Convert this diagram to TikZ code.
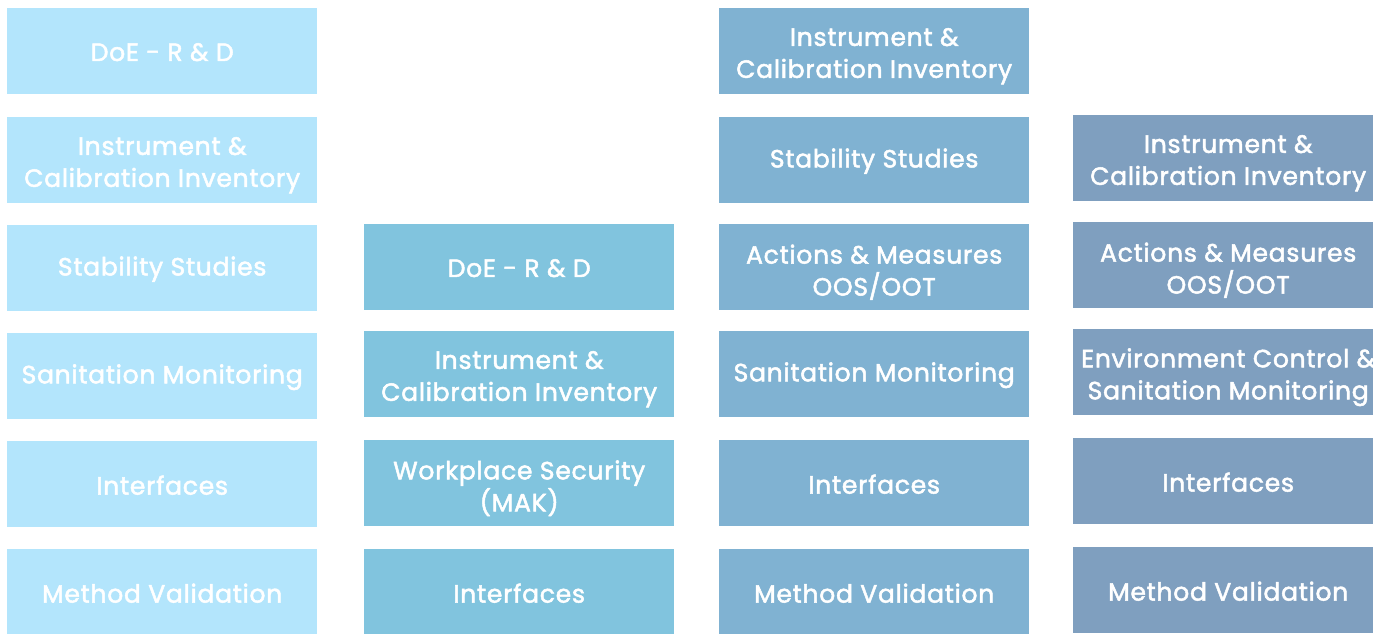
\documentclass[tikz,border=0pt]{standalone}
\usepackage{fontspec}
\setmainfont{Poppins}[LetterSpace=3,BoldFont=Poppins,BoldFeatures={FakeBold=2,LetterSpace=3}]
\definecolor{cA}{RGB}{179,229,252}
\definecolor{cB}{RGB}{129,196,222}
\definecolor{cC}{RGB}{128,178,210}
\definecolor{cD}{RGB}{127,159,191}
\begin{document}
\begin{tikzpicture}[x=1pt,y=-1pt,
  tile/.style={anchor=north west,minimum width=310pt,minimum height=86pt,inner sep=0pt},
  txt/.style={inner sep=0pt,text=white,align=center,font=\bfseries\fontsize{25}{32}\selectfont},
  tA/.style={tile,fill=cA},tB/.style={tile,fill=cB},tC/.style={tile,fill=cC},tD/.style={tile,fill=cD}]
\useasboundingbox (0,0) rectangle (1373,633);
\def\one#1#2{\node[txt] (#1t) at ([yshift=-1pt]#1.center) {#2};}
\def\two#1#2{\node[txt] (#1t) at ([yshift=-5pt]#1.center) {#2};}
\node[tA] (a1) at (7,8) {};   \one{a1}{DoE - R \& D}
\node[tA] (a2) at (7,117) {}; \two{a2}{Instrument \&\\Calibration Inventory}
\node[tA] (a3) at (7,225) {}; \one{a3}{Stability Studies}
\node[tA] (a4) at (7,333) {}; \one{a4}{Sanitation Monitoring}
\node[tA] (a5) at (7,441) {}; \one{a5}{Interfaces}
\node[tA] (a6) at (7,549) {}; \one{a6}{Method Validation}
\node[tB] (b1) at (364,224) {}; \one{b1}{DoE - R \& D}
\node[tB] (b2) at (364,331) {}; \two{b2}{Instrument \&\\Calibration Inventory}
\node[tB] (b3) at (364,440) {}; \two{b3}{Workplace Security\\(MAK)}
\node[tB] (b4) at (364,549) {}; \one{b4}{Interfaces}
\node[tC] (c1) at (719,8) {};   \two{c1}{Instrument \&\\Calibration Inventory}
\node[tC] (c2) at (719,117) {}; \one{c2}{Stability Studies}
\node[tC] (c3) at (719,224) {}; \two{c3}{Actions \& Measures\\OOS/OOT}
\node[tC] (c4) at (719,331) {}; \one{c4}{Sanitation Monitoring}
\node[tC] (c5) at (719,440) {}; \one{c5}{Interfaces}
\node[tC] (c6) at (719,549) {}; \one{c6}{Method Validation}
\node[tD] (d1) at (1073,115) {}; \two{d1}{Instrument \&\\Calibration Inventory}
\node[tD] (d2) at (1073,222) {}; \two{d2}{Actions \& Measures\\OOS/OOT}
\node[tD] (d3) at (1073,329) {}; \two{d3}{Environment Control \&\\Sanitation Monitoring}
\node[tD] (d4) at (1073,438) {}; \one{d4}{Interfaces}
\node[tD] (d5) at (1073,547) {}; \one{d5}{Method Validation}
\end{tikzpicture}
\end{document}
